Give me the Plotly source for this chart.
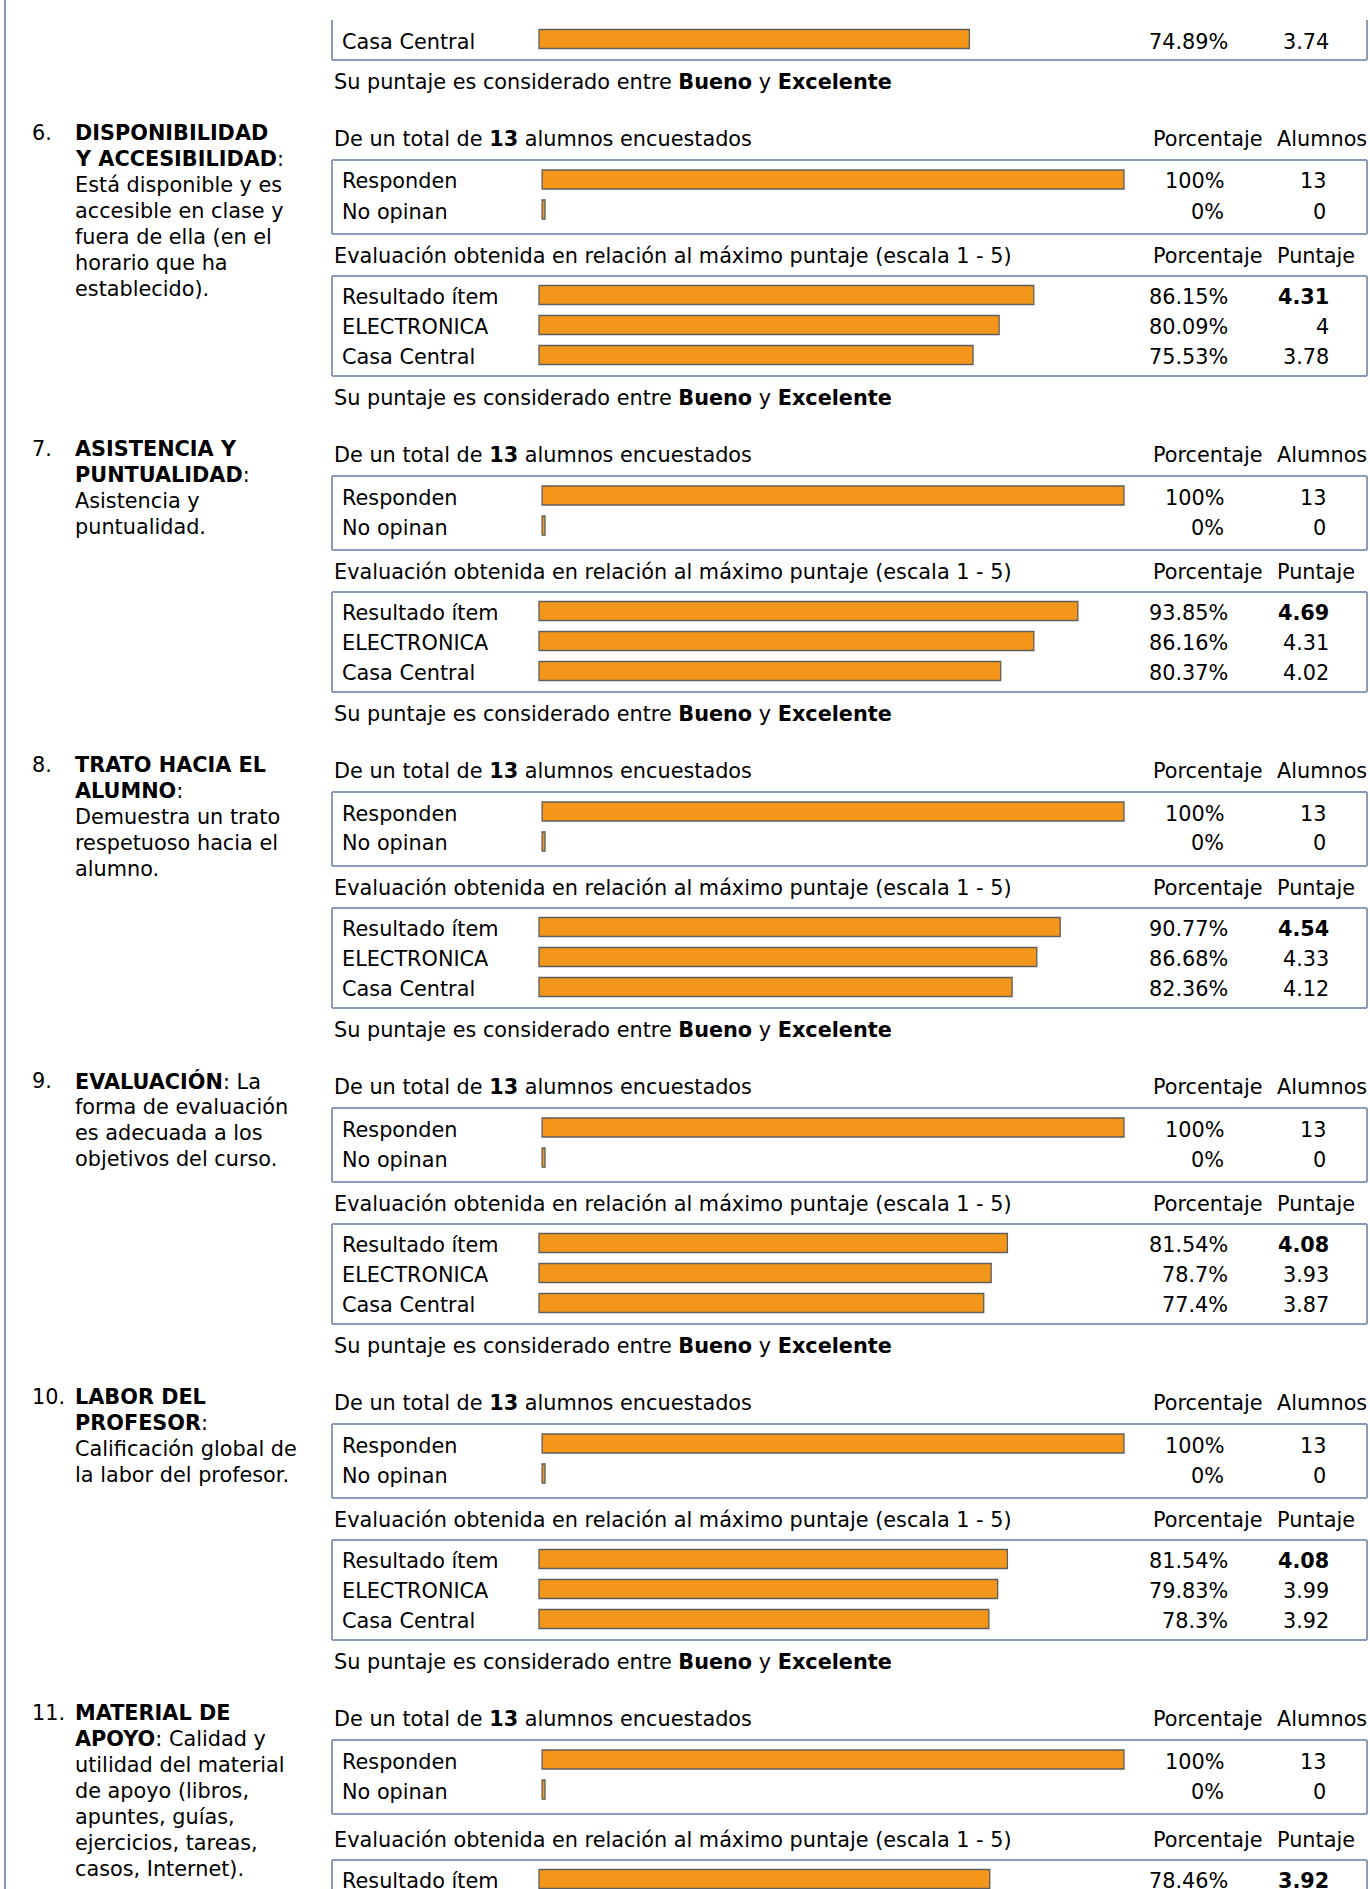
import plotly.graph_objects as go

W, H = 1370, 1889
FONT = "DejaVu Sans, Verdana, sans-serif"
FS = 20.8
ORANGE = "#F4961A"
BORDER = "#8D9BBA"

# ---------------- data ----------------
section_numbers = ["6.", "7.", "8.", "9.", "10.", "11."]
section_titles = [
    ["<b>DISPONIBILIDAD</b>", "<b>Y ACCESIBILIDAD</b>:", "Está disponible y es",
     "accesible en clase y", "fuera de ella (en el", "horario que ha", "establecido)."],
    ["<b>ASISTENCIA Y</b>", "<b>PUNTUALIDAD</b>:", "Asistencia y", "puntualidad."],
    ["<b>TRATO HACIA EL</b>", "<b>ALUMNO</b>:", "Demuestra un trato", "respetuoso hacia el", "alumno."],
    ["<b>EVALUACIÓN</b>: La", "forma de evaluación", "es adecuada a los", "objetivos del curso."],
    ["<b>LABOR DEL</b>", "<b>PROFESOR</b>:", "Calificación global de", "la labor del profesor."],
    ["<b>MATERIAL DE</b>", "<b>APOYO</b>: Calidad y", "utilidad del material", "de apoyo (libros,",
     "apuntes, guías,", "ejercicios, tareas,", "casos, Internet)."],
]
surveyed = [13, 13, 13, 13, 13, 13]
resp_labels = ["Responden", "No opinan"]
resp_pct = [100, 100, 100, 100, 100, 100]
resp_n = [13, 13, 13, 13, 13, 13]
noop_pct = [0, 0, 0, 0, 0, 0]
noop_n = [0, 0, 0, 0, 0, 0]

eval_labels = ["Resultado ítem", "ELECTRONICA", "Casa Central"]
item_pct = [86.15, 93.85, 90.77, 81.54, 81.54, 78.46]
item_score = [4.31, 4.69, 4.54, 4.08, 4.08, 3.92]
elec_pct = [80.09, 86.16, 86.68, 78.7, 79.83]
elec_score = [4, 4.31, 4.33, 3.93, 3.99]
casa_pct = [75.53, 80.37, 82.36, 77.4, 78.3]
casa_score = [3.78, 4.02, 4.12, 3.87, 3.92]

prev_casa_pct = 74.89
prev_casa_score = 3.74

rating_low = "Bueno"
rating_high = "Excelente"

# ---------------- layout constants (pixels) ----------------
Y0 = 139          # header line of first section
PERIOD = 316      # section spacing
BOX_L, BOX_R = 332, 1367
LABEL_X = 341
TEXT_X = 333
NUM_X = 31
TITLE_X = 74

RESP_ZERO, RESP_SLOPE, RESP_CAP = 545, 5.79, 0.5
EVAL_ZERO, EVAL_SLOPE, EVAL_CAP = 541, 5.72, 0.35


def fmt_pct(v):
    return f"{v:g}%"


def fmt_num(v):
    return f"{v:g}"


def X(px):
    return px / W


def Y(py):
    return 1 - py / H


annotations = []
shapes = []


def txt(px, py, text, anchor="left", bold=False):
    annotations.append(dict(
        x=X(px), y=Y(py), xref="paper", yref="paper", text=(f"<b>{text}</b>" if bold else text),
        showarrow=False, xanchor=anchor, yanchor="middle",
        font=dict(family=FONT, size=FS, color="#000000"), borderpad=0,
    ))


def hline(x0, x1, py):
    shapes.append(dict(type="line", xref="paper", yref="paper", x0=X(x0), x1=X(x1), y0=Y(py), y1=Y(py),
                       line=dict(color=BORDER, width=2)))


def vline(px, y0, y1, color=BORDER):
    shapes.append(dict(type="line", xref="paper", yref="paper", x0=X(px), x1=X(px), y0=Y(y0), y1=Y(y1),
                       line=dict(color=color, width=2)))


def box(top, bottom):
    hline(BOX_L, BOX_R, top)
    hline(BOX_L, BOX_R, bottom)
    vline(BOX_L, top, bottom)
    vline(BOX_R, top, bottom)


# page left border
vline(5, 0, H, color="#8594B4")

resp_y, resp_x = [], []
eval_y, eval_x = [], []

# tail of previous section
y0p = Y0 - PERIOD
row_y = y0p + 216
vline(BOX_L, 20, y0p + 237)
vline(BOX_R, 20, y0p + 237)
hline(BOX_L, BOX_R, y0p + 237)
txt(LABEL_X, row_y + 3, "Casa Central")
eval_y.append(row_y)
eval_x.append(prev_casa_pct)
txt(1229, row_y + 3, fmt_pct(prev_casa_pct), anchor="right")
txt(1330, row_y + 3, fmt_num(prev_casa_score), anchor="right")
txt(TEXT_X, y0p + 259, f"Su puntaje es considerado entre <b>{rating_low}</b> y <b>{rating_high}</b>")

for k in range(len(section_numbers)):
    y0 = Y0 + PERIOD * k
    extra = 4 if k == len(section_numbers) - 1 else 0
    # left column
    txt(NUM_X, y0 - 6, section_numbers[k])
    for i, line in enumerate(section_titles[k]):
        txt(TITLE_X, y0 - 6 + 26 * i, line)
    # participation block
    txt(TEXT_X, y0, f"De un total de <b>{surveyed[k]}</b> alumnos encuestados")
    txt(1152, y0, "Porcentaje")
    txt(1276, y0, "Alumnos")
    box(y0 + 21, y0 + 95)
    for j, (pct, n) in enumerate([(resp_pct[k], resp_n[k]), (noop_pct[k], noop_n[k])]):
        ry = y0 + 40.5 + 30 * j
        txt(LABEL_X, ry + 2, resp_labels[j])
        resp_y.append(ry)
        resp_x.append(pct)
        txt(1225, ry + 2, fmt_pct(pct), anchor="right")
        txt(1327, ry + 2, fmt_num(n), anchor="right")
    # evaluation block
    e0 = y0 + extra
    txt(TEXT_X, e0 + 117, "Evaluación obtenida en relación al máximo puntaje (escala 1 - 5)")
    txt(1152, e0 + 117, "Porcentaje")
    txt(1276, e0 + 117, "Puntaje")
    box(e0 + 137, e0 + 237)
    rows = [(item_pct[k], item_score[k], True)]
    if k < len(elec_pct):
        rows.append((elec_pct[k], elec_score[k], False))
    if k < len(casa_pct):
        rows.append((casa_pct[k], casa_score[k], False))
    for j, (pct, sc, bold) in enumerate(rows):
        ry = e0 + 156 + 30 * j
        txt(LABEL_X, ry + 2, eval_labels[j])
        eval_y.append(ry)
        eval_x.append(pct)
        txt(1229, ry + 2, fmt_pct(pct), anchor="right")
        txt(1330, ry + 2, fmt_num(sc), anchor="right", bold=bold)
    txt(TEXT_X, e0 + 259, f"Su puntaje es considerado entre <b>{rating_low}</b> y <b>{rating_high}</b>")

fig = go.Figure()
fig.add_trace(go.Bar(
    orientation="h", y=resp_y, x=[v + RESP_CAP for v in resp_x], base=-RESP_CAP, width=19,
    marker=dict(color=ORANGE, line=dict(color="#5E5E5E", width=1.3)),
    xaxis="x", yaxis="y", hoverinfo="skip", showlegend=False,
))
fig.add_trace(go.Bar(
    orientation="h", y=eval_y, x=[v + EVAL_CAP for v in eval_x], base=-EVAL_CAP, width=19,
    marker=dict(color=ORANGE, line=dict(color="#5E5E5E", width=1.3)),
    xaxis="x2", yaxis="y", hoverinfo="skip", showlegend=False,
))

fig.update_layout(
    width=W, height=H, margin=dict(l=0, r=0, t=0, b=0, pad=0),
    paper_bgcolor="white", plot_bgcolor="white",
    xaxis=dict(domain=[0, 1], range=[-RESP_ZERO / RESP_SLOPE, (W - RESP_ZERO) / RESP_SLOPE],
               visible=False, fixedrange=True),
    xaxis2=dict(domain=[0, 1], range=[-EVAL_ZERO / EVAL_SLOPE, (W - EVAL_ZERO) / EVAL_SLOPE],
                overlaying="x", anchor="y", visible=False, fixedrange=True),
    yaxis=dict(domain=[0, 1], range=[H, 0], visible=False, fixedrange=True),
    annotations=annotations, shapes=shapes, barmode="overlay",
)

fig.write_html("out.html", config={"displayModeBar": False},
               post_script="document.body.style.margin='0';document.body.style.overflow='hidden';")
